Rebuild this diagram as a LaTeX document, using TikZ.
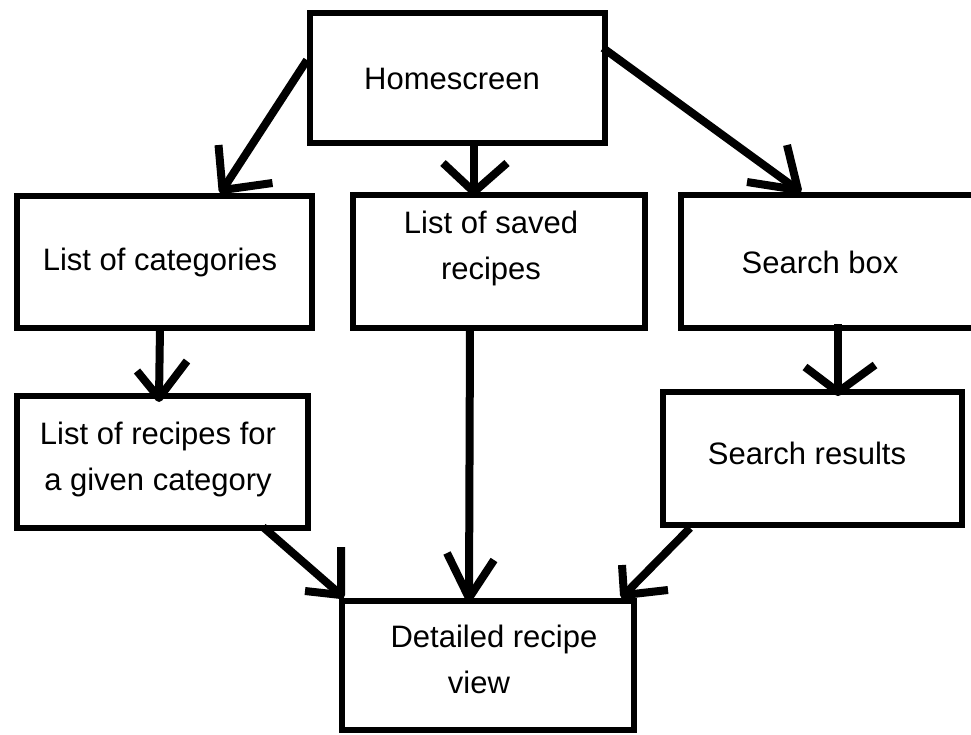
\documentclass[tikz,border=0pt]{standalone}
\usepackage{fontspec}
\setmainfont{Liberation Sans}
\usetikzlibrary{calc}
\begin{document}
\begin{tikzpicture}[x=1pt,y=-1pt,
  box/.style={draw=black, line width=6.5pt, rectangle, inner sep=0pt, outer sep=0pt},
  lbl/.style={font=\fontsize{31}{46}\selectfont, align=center, inner sep=0pt},
  conn/.style={draw=black, line width=8pt, line join=round}]
\useasboundingbox (0,0) rectangle (971,734);
\begin{scope}
\clip (0,0) rectangle (971,734);
% boxes
\node[box, minimum width=295pt, minimum height=130pt] (home)   at (457.5,78)  {};
\node[box, minimum width=295pt, minimum height=132pt] (cat)    at (164.5,262) {};
\node[box, minimum width=292pt, minimum height=133pt] (saved)  at (499,261.5) {};
\node[box, minimum width=319pt, minimum height=133pt] (search) at (840.5,261.5) {};
\node[box, minimum width=291pt, minimum height=132pt] (rfc)    at (162.5,462) {};
\node[box, minimum width=299pt, minimum height=133pt] (res)    at (812.5,458.5) {};
\node[box, minimum width=292pt, minimum height=129pt] (det)    at (488,665.5) {};
% labels
\node[lbl] (home-t)   at (452,79)  {Homescreen};
\node[lbl] (cat-t)    at (160,262) {List of categories};
\node[lbl] (saved-t)  at (491,248) {List of saved\\recipes};
\node[lbl] (search-t) at (820,262) {Search box};
\node[lbl] (rfc-t)    at (158,459) {List of recipes for\\a given category};
\node[lbl] (res-t)    at (807,453) {Search results};
\node[lbl] (det-t)    at (494,659) {Detailed recipe\\view\hspace*{30pt}};
% connector end points
\coordinate (a1s) at ($(home.west)+(-3,-18)$);
\coordinate (a1t) at ($(cat.north)+(58,-6)$);
\coordinate (a2s) at ($(home.south)+(16.5,0)$);
\coordinate (a2t) at ($(saved.north)+(-25,-3)$);
\coordinate (a3s) at ($(home.east)+(-2,-30)$);
\coordinate (a3t) at ($(search.north west)+(117,-5)$);
\coordinate (a4s) at ($(cat.south)+(-4.5,0)$);
\coordinate (a4t) at ($(rfc.north)+(-3.5,2)$);
\coordinate (a5s) at ($(search.south west)+(157,-4)$);
\coordinate (a5t) at ($(res.north)+(25.5,0)$);
\coordinate (a6s) at ($(saved.south)+(-29,0)$);
\coordinate (a6t) at ($(det.north)+(-19,-3)$);
\coordinate (a7s) at ($(rfc.south east)+(-45,-1)$);
\coordinate (a7t) at ($(det.north west)+(-1,-6)$);
\coordinate (a8s) at ($(res.south west)+(27,3)$);
\coordinate (a8t) at ($(det.north east)+(-10,-6)$);
% shafts
\draw[conn] (a1s) -- (a1t);
\draw[conn] (a2s) -- (a2t);
\draw[conn] (a3s) -- (a3t);
\draw[conn] (a4s) -- (a4t);
\draw[conn] (a5s) -- (a5t);
\draw[conn] (a6s) -- (a6t);
\draw[conn] (a7s) -- (a7t);
\draw[conn] (a8s) -- (a8t);
% hand-drawn open heads
\draw[conn] ([shift={(-4,-45)}]a1t) -- (a1t) -- ([shift={(50,-7)}]a1t);
\draw[conn] ([shift={(-31,-29)}]a2t) -- (a2t) -- ([shift={(33,-29)}]a2t);
\draw[conn] ([shift={(-11,-45)}]a3t) -- (a3t) -- ([shift={(-51,-8)}]a3t);
\draw[conn] ([shift={(-22,-27)}]a4t) -- (a4t) -- ([shift={(28,-37)}]a4t);
\draw[conn] ([shift={(-33,-25)}]a5t) -- (a5t) -- ([shift={(37,-27)}]a5t);
\draw[conn] ([shift={(-22,-45)}]a6t) -- (a6t) -- ([shift={(25,-38)}]a6t);
\draw[conn] ([shift={(0,-48)}]a7t) -- (a7t) -- ([shift={(-36,-4)}]a7t);
\draw[conn] ([shift={(-2,-30)}]a8t) -- (a8t) -- ([shift={(44,-5)}]a8t);
\end{scope}
\end{tikzpicture}
\end{document}
